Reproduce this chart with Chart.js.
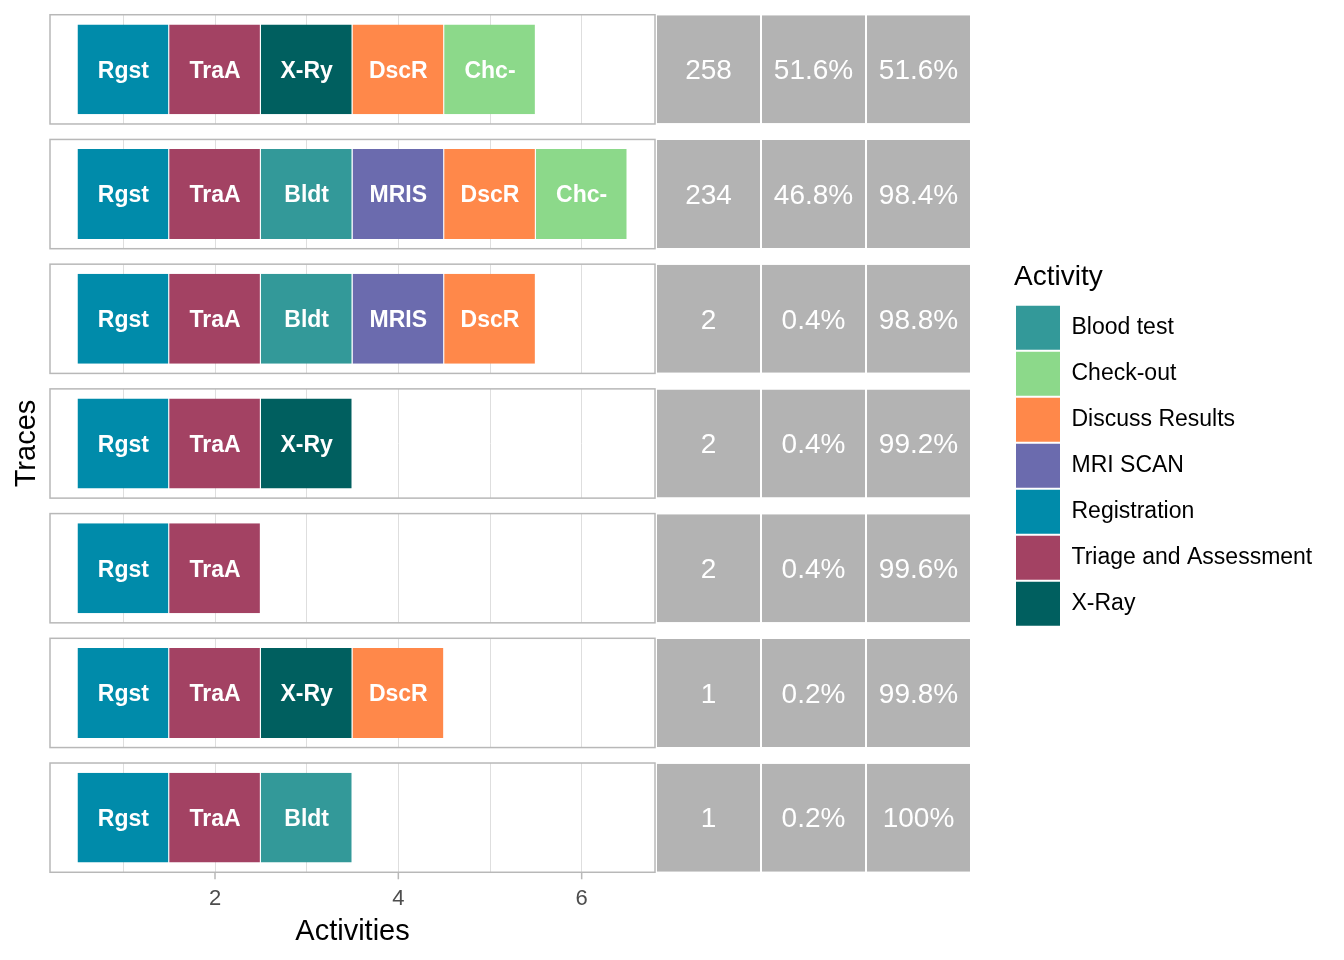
<!DOCTYPE html>
<html>
<head>
<meta charset="utf-8">
<script src="https://cdn.jsdelivr.net/npm/chart.js@4.4.1/dist/chart.umd.min.js"></script>
<style>
  html, body { margin: 0; padding: 0; background: #fff; }
  body { width: 1344px; height: 960px; position: relative; overflow: hidden; }
  .box { position: absolute; top: 0; height: 960px; }
</style>
</head>
<body>
<div class="box" style="left:0;width:660px"><canvas id="traces"></canvas></div>
<div class="box" style="left:655px;width:330px"><canvas id="freq"></canvas></div>
<div class="box" style="left:1000px;width:344px"><canvas id="legend"></canvas></div>
<script>
// activities in legend order, with short tags and fill colours
const activities = ['Blood test', 'Check-out', 'Discuss Results', 'MRI SCAN', 'Registration', 'Triage and Assessment', 'X-Ray'];
const abbrev = ['Bldt', 'Chc-', 'DscR', 'MRIS', 'Rgst', 'TraA', 'X-Ry'];
const colors = ['#339999', '#8CD98A', '#FF884A', '#6B6BAE', '#008BAA', '#A34263', '#005F5F'];

// traces, top to bottom
const traceIds = ['T1', 'T2', 'T3', 'T4', 'T5', 'T6', 'T7'];
const traces = [
  ['Registration', 'Triage and Assessment', 'X-Ray', 'Discuss Results', 'Check-out'],
  ['Registration', 'Triage and Assessment', 'Blood test', 'MRI SCAN', 'Discuss Results', 'Check-out'],
  ['Registration', 'Triage and Assessment', 'Blood test', 'MRI SCAN', 'Discuss Results'],
  ['Registration', 'Triage and Assessment', 'X-Ray'],
  ['Registration', 'Triage and Assessment'],
  ['Registration', 'Triage and Assessment', 'X-Ray', 'Discuss Results'],
  ['Registration', 'Triage and Assessment', 'Blood test']
];
const absFreq = [258, 234, 2, 2, 2, 1, 1];
const relFreq = [51.6, 46.8, 0.4, 0.4, 0.4, 0.2, 0.2];
const cumFreq = [51.6, 98.4, 98.8, 99.2, 99.6, 99.8, 100];

// x axis
const xGrid = [1, 2, 3, 4, 5, 6];
const xLabels = ['', '2', '', '4', '', '6'];

const FONT = "'Liberation Sans', Arial, sans-serif";
Chart.defaults.font.family = FONT;
Chart.defaults.animation = false;

// white text in the middle of each bar
const tileLabels = {
  id: 'tileLabels',
  afterDatasetsDraw(chart, args, opts) {
    const ctx = chart.ctx;
    ctx.save();
    ctx.fillStyle = '#FFFFFF';
    ctx.font = opts.font;
    ctx.textAlign = 'center';
    ctx.textBaseline = 'middle';
    chart.data.datasets.forEach((ds, di) => {
      chart.getDatasetMeta(di).data.forEach((el, j) => {
        const p = el.getCenterPoint();
        ctx.fillText(ds.tags[j], p.x, p.y + 2);
      });
    });
    ctx.restore();
  }
};

// facet boxes: blank the gaps between panels, then draw the borders
const panels = {
  id: 'panels',
  beforeDatasetsDraw(chart) {
    const { ctx, chartArea: a, scales: { x, y } } = chart;
    const band = a.height / traceIds.length;
    const half = band * 0.876 / 2;
    const boxes = traceIds.map((t, i) => {
      const c = y.getPixelForValue(i);
      return [c - half, c + half];
    });
    ctx.save();
    ctx.fillStyle = '#FFFFFF';
    let prev = a.top - 1;
    boxes.forEach(([t, b]) => {
      ctx.fillRect(a.left - 2, prev, a.width + 4, t - prev);
      prev = b;
    });
    ctx.fillRect(a.left - 2, prev, a.width + 4, a.bottom - prev + 2);
    ctx.strokeStyle = '#B8B8B8';
    ctx.lineWidth = 1.5;
    boxes.forEach(([t, b]) => ctx.strokeRect(a.left, t, a.width, b - t));
    const last = boxes[boxes.length - 1][1];
    x.ticks.forEach((tk, i) => {
      if (!xLabels[i]) return;
      const px = x.getPixelForValue(tk.value);
      ctx.beginPath();
      ctx.moveTo(px, last);
      ctx.lineTo(px, last + 7);
      ctx.stroke();
    });
    ctx.restore();
  }
};

const tileSets = activities.map((act, k) => {
  const pts = [];
  traces.forEach((seq, i) => {
    seq.forEach((a, pos) => {
      if (a === act) pts.push({ x: [pos + 0.5, pos + 1.5], y: traceIds[i] });
    });
  });
  return {
    label: act,
    data: pts,
    tags: pts.map(() => abbrev[k]),
    backgroundColor: colors[k],
    borderColor: '#FFFFFF',
    borderWidth: { left: 0, right: 1, top: 0, bottom: 0 },
    borderSkipped: false,
    grouped: false,
    categoryPercentage: 0.721,
    barPercentage: 1
  };
});

new Chart(document.getElementById('traces'), {
  type: 'bar',
  data: { labels: traceIds, datasets: tileSets },
  options: {
    responsive: true,
    maintainAspectRatio: false,
    indexAxis: 'y',
    layout: { padding: { top: 7, right: 5, left: 0, bottom: 0 } },
    scales: {
      y: {
        type: 'category',
        offset: true,
        grid: { display: false },
        border: { display: false },
        ticks: { display: false },
        title: { display: true, text: 'Traces', color: '#000', font: { size: 29 }, padding: { top: 10, bottom: 0 } },
        afterFit: s => { s.width = 50; }
      },
      x: {
        type: 'linear',
        min: 0.2,
        max: 6.8,
        afterBuildTicks: s => { s.ticks = xGrid.map(v => ({ value: v })); },
        grid: { color: '#DEDEDE', lineWidth: 1, drawTicks: false },
        border: { display: false },
        ticks: {
          autoSkip: false,
          maxRotation: 0,
          padding: 6,
          color: '#4D4D4D',
          font: { size: 22 },
          callback: (v, i) => xLabels[i]
        },
        title: { display: true, text: 'Activities', color: '#000', font: { size: 29 }, padding: { top: 0, bottom: 11 } },
        afterFit: s => { s.height = 80; }
      }
    },
    plugins: {
      legend: { display: false },
      tooltip: { enabled: false },
      tileLabels: { font: 'bold 23px ' + FONT }
    }
  },
  plugins: [panels, tileLabels]
});

// frequency table next to the traces
const freqCols = [absFreq.map(String), relFreq.map(v => v + '%'), cumFreq.map(v => v + '%')];
const freqSets = freqCols.map((txt, c) => ({
  label: ['absolute', 'relative', 'cumulative'][c],
  data: traceIds.map(t => ({ x: [c, c + 1], y: t })),
  tags: txt,
  backgroundColor: '#B3B3B3',
  borderColor: '#FFFFFF',
  borderWidth: { left: 1, right: 1, top: 0, bottom: 0 },
  borderSkipped: false,
  grouped: false,
  categoryPercentage: 0.866,
  barPercentage: 1
}));

new Chart(document.getElementById('freq'), {
  type: 'bar',
  data: { labels: traceIds, datasets: freqSets },
  options: {
    responsive: true,
    maintainAspectRatio: false,
    indexAxis: 'y',
    layout: { padding: { top: 7, bottom: 80, left: 1, right: 14 } },
    scales: {
      y: { type: 'category', offset: true, display: false },
      x: { type: 'linear', min: 0, max: 3, display: false }
    },
    plugins: {
      legend: { display: false },
      tooltip: { enabled: false },
      tileLabels: { font: '28px ' + FONT }
    }
  },
  plugins: [tileLabels]
});

// legend for the activity colours
new Chart(document.getElementById('legend'), {
  type: 'bar',
  data: {
    labels: [],
    datasets: activities.map((a, k) => ({ label: a, data: [], backgroundColor: colors[k], borderWidth: 0 }))
  },
  options: {
    responsive: true,
    maintainAspectRatio: false,
    layout: { padding: { left: 14, top: 7, bottom: 80 } },
    scales: { x: { display: false }, y: { display: false } },
    plugins: {
      tooltip: { enabled: false },
      legend: {
        position: 'left',
        align: 'center',
        maxWidth: 325,
        onClick: null,
        title: { display: true, text: 'Activity', color: '#000', font: { size: 28 }, padding: { top: 4, bottom: 7 }, position: 'start' },
        labels: { boxWidth: 44, boxHeight: 44, padding: 2, color: '#000', font: { size: 23 } }
      }
    }
  }
});
</script>
</body>
</html>
